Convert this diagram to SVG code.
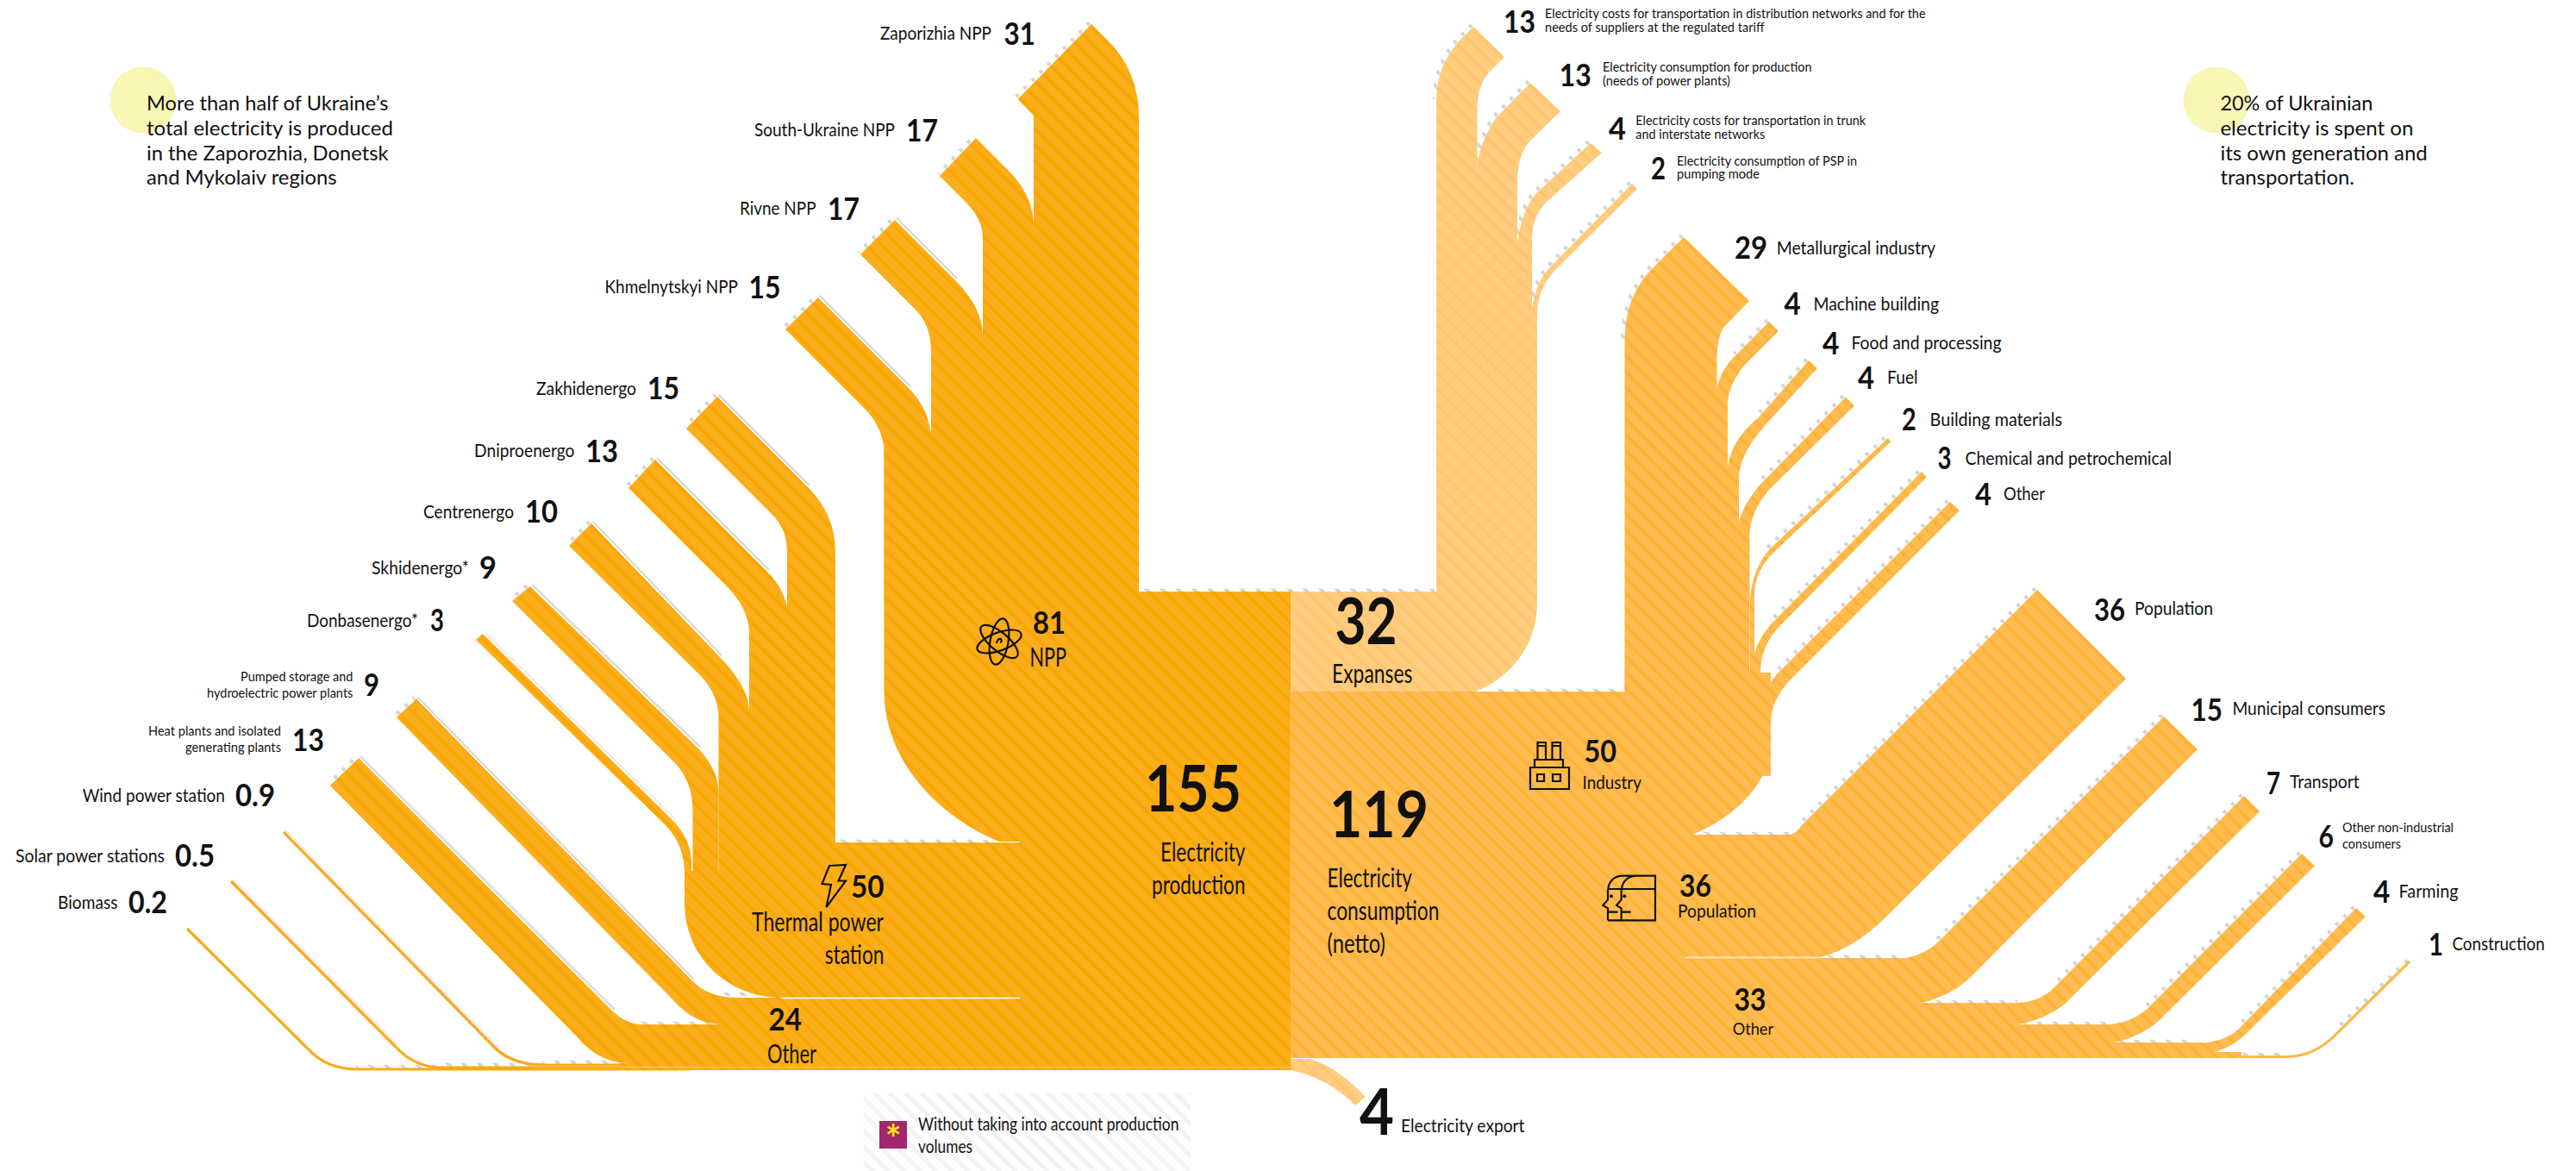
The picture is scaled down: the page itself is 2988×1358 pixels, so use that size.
<svg xmlns="http://www.w3.org/2000/svg" width="2988" height="1358" viewBox="0 0 2988 1358">
<style>
text{font-family:"Lato","Noto Sans","Liberation Sans",sans-serif;fill:#111}
.n{font-weight:700;font-size:37px}
.b{font-weight:700;font-size:74px}
.l{font-size:21px}
.s{font-size:16px}
.m{font-size:30px}
.t{font-size:20px}
.gl{fill:url(#pL)}
.gr{fill:url(#pR)}
.ge{fill:url(#pE)}
.tick{fill:none;stroke:url(#pG);stroke-width:4.5}
.edge{fill:none;stroke:#d9dbdd;stroke-width:2.5}
.thinL{fill:none;stroke:#F9A91A;stroke-width:3.2}
.thinR{fill:none;stroke:#FEB84A;stroke-width:3.2}
.icon{fill:none;stroke:#111;stroke-width:2.2}
</style>
<defs>
<pattern id="pL" width="13" height="13" patternUnits="userSpaceOnUse" patternTransform="rotate(-45)"><rect width="13" height="13" fill="#FBAE1B"/><rect width="4" height="13" fill="#F9A605"/></pattern>
<pattern id="pR" width="13" height="13" patternUnits="userSpaceOnUse" patternTransform="rotate(-45)"><rect width="13" height="13" fill="#FEBB50"/><rect width="4" height="13" fill="#FDB33A"/></pattern>
<pattern id="pE" width="13" height="13" patternUnits="userSpaceOnUse" patternTransform="rotate(-45)"><rect width="13" height="13" fill="#FFCC80"/><rect width="4" height="13" fill="#FFC671"/></pattern>
<pattern id="pG" width="13" height="13" patternUnits="userSpaceOnUse" patternTransform="rotate(-45)"><rect width="4" height="13" fill="#d2d5d8"/></pattern>
<pattern id="pH" width="13" height="13" patternUnits="userSpaceOnUse" patternTransform="rotate(-45)"><rect width="13" height="13" fill="#fff"/><rect width="5" height="13" fill="#f3f3f3"/></pattern>
</defs>
<rect width="2988" height="1358" fill="#fff"/>

<g id="connectors">
<g transform="translate(-2,-2)">
<path class="tick" d="M1709 31L1695 45Q1666 75 1666 117M1775 96L1735 137Q1716 165 1713 195M1845 166L1781 225Q1765 245 1760 282M1893 213L1800 308Q1782 325 1777 358M1953 275L1915 313Q1884.5 345 1884.5 395M2052 373L2013.5 412M2098 418L2039 485M2141 460L2042 561M2190 508L2052 637M2229 547L2055 723M2262 582L2061 782M2363 684L2090 957M2510 831L2249 1091M2603 923L2383 1145M2670 990L2492 1168M2733 1053L2600 1190M2795 1115L2712 1195"/>
<path class="tick" d="M1730 803H1884M1972 969H2077M2120 1112H2211M2240 1164H2342M2350 1189H2447M2460 1210H2552M2560 1225H2650M1321 687H1666M969 978H1155M743 1189H837M631 1234H730M510 1237H631M415 1239H510M842 1155H875"/>
<path class="tick" d="M1266 28L1180 115M1132 160L1090 204M1038 255L998 295M949 345L911 382M832 460L796 497M760 533L729 566M686 607L660 633M615 680L594 697M483 811L460 832M416 879L383 911"/>
</g>
<path class="edge" transform="translate(2,-2)" d="M1038 255L1108 325M949 345L1054 450M832 460L937 565M760 533L890 663M686 607L835 762M615 680L810 868M483 811L803 1138M416 879L711 1173"/>
<path class="edge" transform="translate(2,-2)" stroke-opacity=".5" d="M560 735L781 952M329 965L575 1216M268 1022L459 1214"/>

<path class="thinL" d="M217 1077L357 1216Q378 1240 415 1240H800"/>
<path class="thinL" d="M268 1022L459 1214Q480 1237 510 1238H800"/>
<path class="thinL" d="M329 965L575 1216Q595 1235 632 1235H800"/>
<path class="gl" d="M1266 28L1285 47Q1321 83 1321 135V700H1199V134L1180.5 115Z"/>
<path class="gl" d="M1132 160L1169 197Q1199 227 1199 262V700H1140V278Q1140 254 1121 235L1090 204Z"/>
<path class="gl" d="M1038 255L1108 325Q1140 357 1140 390V700H1080V408Q1080 377 1062 359L998 295Z"/>
<path class="gl" d="M949 345L1054 450Q1080 476 1080 512V700H1025.5V525Q1025.5 497 1003 474L911 382Z"/>
<path class="gl" d="M1025.5 500H1321V686H1497.5V1241H900V1100H1183V976H1159C1085 945 1025.5 880 1025.5 801Z"/>
<path class="gl" d="M832 460L937 565Q969 597 969 640V1020H913V642Q913 614 897 598L796 497Z"/>
<path class="gl" d="M760 533L890 663Q915 688 915 722V1020H869V734Q869 706 842 679L729 566Z"/>
<path class="gl" d="M686 607L835 762Q869 797 869 825V1020H833.5V832Q833.5 806 813 784L660 633Z"/>
<path class="gl" d="M615 680L810 868Q833.5 893 833.5 920V1020H803.5V940Q803.5 905 781 883L594 697Z"/>
<path class="gl" d="M560 735L781 952Q802 975 802 1000V1020H794V1013Q794 980 772 957L552 742Z"/>
<path class="gl" d="M794 1010H969V977H1200V1157H906C845 1157 794 1110 794 1047Z"/>
<path class="gl" d="M483 810.6L803.5 1138Q822 1157 855 1157H1000V1188H837Q806 1188 781 1160L460 832Z"/>
<path class="gl" d="M416 879L711 1173Q727 1188 745 1188H1000V1233H730Q695 1233 670 1203L383 911Z"/>
<path class="gl" d="M720 1233H1000V1157H1497.5V1241H720Z"/>
<path d="M906 1157.5H1183" stroke="#fff" stroke-width="1.4" fill="none"/>
<path d="M720 1237.5H1497" stroke="#FFC86A" stroke-width="1" fill="none"/>

<path class="ge" d="M1520 1228Q1555 1240 1583.5 1272L1572 1282Q1540 1250 1497.5 1241V1228Z"/>
<path class="ge" d="M1497.5 686H1783V700C1783 745 1755 785 1711 802H1497.5Z"/>
<path class="ge" d="M1709 31L1745 66L1727 84Q1713.6 100 1713.6 125V700H1666V117Q1666 75 1695 45Z"/>
<path class="ge" d="M1775 96L1810 129L1775 163Q1760 180 1760 210V700H1713V195Q1716 165 1735 137Z"/>
<path class="ge" d="M1845 166L1858 177L1794 234Q1777 250 1777 280V700H1760V282Q1765 245 1781 225Z"/>
<path class="ge" d="M1893 213L1899 219L1805 312Q1783 335 1783 365V700H1777V358Q1782 325 1800 308Z"/>

<path class="gr" d="M1953 275L2029 349L1999 380Q1991.5 392 1991.5 420V800H1884.5V395Q1884.5 345 1915 313Z"/>
<path class="gr" d="M2052 373L2063 384L2026 421Q2004 445 2004 470V800H1991V455Q1994 430 2013.5 412Z"/>
<path class="gr" d="M2098 418L2108 427L2048.6 492Q2017 527 2017 555V800H2004V542Q2008 510 2039 485Z"/>
<path class="gr" d="M2141 460.5L2151 470.5L2052 568Q2029.5 595 2029.5 620V800H2017V605Q2022 585 2042 561.6Z"/>
<path class="gr" d="M2190 508L2193.4 512L2058 640Q2035 662 2035 690V800H2030V693Q2033 660 2052 637.5Z"/>
<path class="gr" d="M2229 547L2235 553L2063 727.5Q2042 750 2042 780V800H2035V758Q2040 740 2055 723Z"/>
<path class="gr" d="M2262 582L2273 592L2077 788Q2054 812 2054 838V900H2042V818Q2048 798 2061 782Z"/>
<path class="gr" d="M1497.5 802H1884.5V780H2054V862C2054 905 2015 948 1960 969V1227H1497.5Z"/>
<path class="gr" d="M2363 684L2466 787L2186 1065Q2150 1100 2112 1110H1950V968H2077Q2085 965 2090 957Z"/>
<path class="gr" d="M2510 831L2549 869L2285 1134Q2262 1155 2229 1163H1950V1111H2211Q2235 1106 2249.5 1091Z"/>
<path class="gr" d="M2603 923L2621 941L2393 1166Q2372 1182 2342 1188H1950V1163H2342Q2367 1161 2383 1145Z"/>
<path class="gr" d="M2670 990L2685 1004L2511 1177Q2490 1200 2453 1209H1950V1188H2447Q2475 1185 2492 1168.5Z"/>
<path class="gr" d="M2733 1053L2744 1063L2610 1194Q2590 1217 2556 1223.5H1950V1210H2552Q2585 1207 2600 1190Z"/>
<path class="thinR" d="M2795 1115L2712 1197Q2685 1226 2651 1225.5H2500"/>
<path class="gr" d="M1950 1105H2112V1111H2229V1163H2342V1188H2453V1209H2556V1220H2600V1227H1950Z"/>
<path d="M1955 1110.5H2112" stroke="#FFE2B5" stroke-width="1.8" fill="none"/>
</g>

<g id="note-left">
<circle cx="166" cy="116" r="38.5" fill="#F9F5B5"/>
<text x="170" y="128" font-size="24" textLength="280.6" lengthAdjust="spacingAndGlyphs">More than half of Ukraine’s</text>
<text x="170" y="157" font-size="24" textLength="286" lengthAdjust="spacingAndGlyphs">total electricity is produced</text>
<text x="170" y="185.6" font-size="24" textLength="280.6" lengthAdjust="spacingAndGlyphs">in the Zaporozhia, Donetsk</text>
<text x="170" y="214" font-size="24" textLength="220.7" lengthAdjust="spacingAndGlyphs">and Mykolaiv regions</text>
</g>
<g id="note-right">
<circle cx="2571" cy="116" r="38.5" fill="#F9F5B5"/>
<text x="2575.4" y="128" font-size="24" textLength="177" lengthAdjust="spacingAndGlyphs">20% of Ukrainian</text>
<text x="2575.4" y="157" font-size="24" textLength="224" lengthAdjust="spacingAndGlyphs">electricity is spent on</text>
<text x="2575.4" y="185.6" font-size="24" textLength="240.4" lengthAdjust="spacingAndGlyphs">its own generation and</text>
<text x="2575.4" y="214" font-size="24" textLength="155.6" lengthAdjust="spacingAndGlyphs">transportation.</text>
</g>

<g id="zaporizhia"><text class="l" x="1021" y="45.5" textLength="129" lengthAdjust="spacingAndGlyphs">Zaporizhia NPP</text><text class="n" x="1164.5" y="52" textLength="36.5" lengthAdjust="spacingAndGlyphs">31</text></g>
<g id="south-ukraine"><text class="l" x="875" y="158" textLength="163" lengthAdjust="spacingAndGlyphs">South-Ukraine NPP</text><text class="n" x="1051" y="164" textLength="37" lengthAdjust="spacingAndGlyphs">17</text></g>
<g id="rivne"><text class="l" x="858" y="249" textLength="88.5" lengthAdjust="spacingAndGlyphs">Rivne NPP</text><text class="n" x="960" y="255" textLength="37" lengthAdjust="spacingAndGlyphs">17</text></g>
<g id="khmelnytskyi"><text class="l" x="701.5" y="340" textLength="154.5" lengthAdjust="spacingAndGlyphs">Khmelnytskyi NPP</text><text class="n" x="868.6" y="345.6" textLength="37" lengthAdjust="spacingAndGlyphs">15</text></g>
<g id="zakhidenergo"><text class="l" x="622" y="457.5" textLength="116" lengthAdjust="spacingAndGlyphs">Zakhidenergo</text><text class="n" x="751" y="463" textLength="37" lengthAdjust="spacingAndGlyphs">15</text></g>
<g id="dniproenergo"><text class="l" x="550" y="530" textLength="116.5" lengthAdjust="spacingAndGlyphs">Dniproenergo</text><text class="n" x="679" y="535.5" textLength="38" lengthAdjust="spacingAndGlyphs">13</text></g>
<g id="centrenergo"><text class="l" x="491" y="600.6" textLength="105" lengthAdjust="spacingAndGlyphs">Centrenergo</text><text class="n" x="609" y="606" textLength="38" lengthAdjust="spacingAndGlyphs">10</text></g>
<g id="skhidenergo"><text class="l" x="431" y="665.6" textLength="113" lengthAdjust="spacingAndGlyphs">Skhidenergo*</text><text class="n" x="556" y="671" textLength="20" lengthAdjust="spacingAndGlyphs">9</text></g>
<g id="donbasenergo"><text class="l" x="356" y="726.7" textLength="129" lengthAdjust="spacingAndGlyphs">Donbasenergo*</text><text class="n" x="499" y="732" textLength="16" lengthAdjust="spacingAndGlyphs">3</text></g>
<g id="pumped"><text class="s" x="279" y="790" textLength="130.4" lengthAdjust="spacingAndGlyphs">Pumped storage and</text><text class="s" x="240" y="809" textLength="169.4" lengthAdjust="spacingAndGlyphs">hydroelectric power plants</text><text class="n" x="422" y="806.7" textLength="18" lengthAdjust="spacingAndGlyphs">9</text></g>
<g id="heat"><text class="s" x="172" y="853" textLength="154" lengthAdjust="spacingAndGlyphs">Heat plants and isolated</text><text class="s" x="215" y="871.5" textLength="111" lengthAdjust="spacingAndGlyphs">generating plants</text><text class="n" x="339" y="871" textLength="37" lengthAdjust="spacingAndGlyphs">13</text></g>
<g id="wind"><text class="l" x="95.7" y="930" textLength="165.3" lengthAdjust="spacingAndGlyphs">Wind power station</text><text class="n" x="273" y="935" textLength="46" lengthAdjust="spacingAndGlyphs">0.9</text></g>
<g id="solar"><text class="l" x="18" y="1000" textLength="173" lengthAdjust="spacingAndGlyphs">Solar power stations</text><text class="n" x="203" y="1005" textLength="46" lengthAdjust="spacingAndGlyphs">0.5</text></g>
<g id="biomass"><text class="l" x="67" y="1054" textLength="69.5" lengthAdjust="spacingAndGlyphs">Biomass</text><text class="n" x="149" y="1059" textLength="45" lengthAdjust="spacingAndGlyphs">0.2</text></g>

<g id="other-left"><text class="n" x="891.6" y="1194.5" textLength="38.4" lengthAdjust="spacingAndGlyphs">24</text><text class="m" x="890" y="1233.4" textLength="57" lengthAdjust="spacingAndGlyphs">Other</text></g>
<g id="thermal">
<path class="icon" d="M962 1004L981 1003L972.6 1021.5L981 1021.5L958.5 1052L964 1026L953.5 1025Z"/>
<text class="n" x="987" y="1041" textLength="38.5" lengthAdjust="spacingAndGlyphs">50</text>
<text class="m" x="872" y="1080" textLength="153" lengthAdjust="spacingAndGlyphs">Thermal power</text>
<text class="m" x="956.7" y="1118" textLength="68.8" lengthAdjust="spacingAndGlyphs">station</text>
</g>
<g id="npp">
<g class="icon" stroke-width="2.7"><ellipse cx="1159" cy="744" rx="27" ry="10.5" transform="rotate(-20 1159 744)"/><ellipse cx="1159" cy="744" rx="27" ry="10.5" transform="rotate(40 1159 744)"/><ellipse cx="1159" cy="744" rx="27" ry="10.5" transform="rotate(100 1159 744)"/><path d="M1156 746Q1157 740 1161 741Q1163 744 1160 745"/></g>
<text class="n" x="1198" y="734.5" textLength="38" lengthAdjust="spacingAndGlyphs">81</text>
<text class="m" x="1194.5" y="772.5" textLength="42.5" lengthAdjust="spacingAndGlyphs">NPP</text>
</g>
<g id="production"><text class="b" x="1328" y="940.7" textLength="112" lengthAdjust="spacingAndGlyphs">155</text><text class="m" x="1346" y="998.6" textLength="98.5" lengthAdjust="spacingAndGlyphs">Electricity</text><text class="m" x="1336" y="1036.7" textLength="108.5" lengthAdjust="spacingAndGlyphs">production</text></g>
<g id="expanses"><text class="b" x="1548.5" y="747.4" textLength="72" lengthAdjust="spacingAndGlyphs">32</text><text class="m" x="1545" y="791.5" textLength="93.4" lengthAdjust="spacingAndGlyphs">Expanses</text></g>
<g id="consumption"><text class="b" x="1542" y="970.5" textLength="115" lengthAdjust="spacingAndGlyphs">119</text><text class="m" x="1539.5" y="1029" textLength="98.3" lengthAdjust="spacingAndGlyphs">Electricity</text><text class="m" x="1539.5" y="1067" textLength="130" lengthAdjust="spacingAndGlyphs">consumption</text><text class="m" x="1539.5" y="1104.5" textLength="67.5" lengthAdjust="spacingAndGlyphs">(netto)</text></g>
<g id="industry">
<path class="icon" d="M1775 890H1820V915H1775ZM1783 898H1791V906H1783ZM1801 898H1810V906H1801ZM1780 890V881H1813V890M1783.5 881V861H1793V881M1783.5 865H1793M1800.5 881V861H1810V881M1800.5 865H1810"/>
<text class="n" x="1837.4" y="884" textLength="37.6" lengthAdjust="spacingAndGlyphs">50</text>
<text class="l" x="1835.5" y="915" textLength="68.5" lengthAdjust="spacingAndGlyphs">Industry</text>
</g>
<g id="population">
<g transform="translate(1850 1005) scale(.3333)"><path fill="none" stroke="#111" stroke-width="6.5" d="M45 187V145L28 135L45 115V85Q48 32 100 32H210V187H45M92 187V145L75 135L92 115V85Q95 32 150 32M45 78H210M45 158H80M92 158H125"/><circle cx="57" cy="103" r="6" fill="#111"/><circle cx="103" cy="103" r="6" fill="#111"/></g>
<text class="n" x="1948" y="1039.7" textLength="37" lengthAdjust="spacingAndGlyphs">36</text>
<text class="l" x="1946" y="1064" textLength="91" lengthAdjust="spacingAndGlyphs">Population</text>
</g>
<g id="other-right"><text class="n" x="2011.6" y="1172" textLength="37" lengthAdjust="spacingAndGlyphs">33</text><text class="t" x="2009.7" y="1200" textLength="47.3" lengthAdjust="spacingAndGlyphs">Other</text></g>
<g id="export"><text class="b" x="1577" y="1316.4" textLength="40" lengthAdjust="spacingAndGlyphs">4</text><text class="l" x="1625" y="1313.4" textLength="143.5" lengthAdjust="spacingAndGlyphs">Electricity export</text></g>
<g id="legend">
<rect x="1002" y="1267" width="379" height="91" fill="url(#pH)"/>
<rect x="1020" y="1300" width="32" height="32" fill="#A2276F"/>
<text x="1036" y="1336" font-size="44" font-weight="700" text-anchor="middle" style="fill:#FFE51A">*</text>
<text class="l" x="1065" y="1311" textLength="302.4" lengthAdjust="spacingAndGlyphs">Without taking into account production</text>
<text class="l" x="1065" y="1337" textLength="63" lengthAdjust="spacingAndGlyphs">volumes</text>
</g>

<g id="distribution"><text class="n" x="1744" y="38" textLength="37" lengthAdjust="spacingAndGlyphs">13</text><text class="s" x="1792" y="21" textLength="441.5" lengthAdjust="spacingAndGlyphs">Electricity costs for transportation in distribution networks and for the</text><text class="s" x="1792" y="37" textLength="254.7" lengthAdjust="spacingAndGlyphs">needs of suppliers at the regulated tariff</text></g>
<g id="own-needs"><text class="n" x="1808.7" y="100" textLength="37" lengthAdjust="spacingAndGlyphs">13</text><text class="s" x="1859" y="83" textLength="242.5" lengthAdjust="spacingAndGlyphs">Electricity consumption for production</text><text class="s" x="1859" y="99" textLength="148" lengthAdjust="spacingAndGlyphs">(needs of power plants)</text></g>
<g id="trunk"><text class="n" x="1866" y="162" textLength="20" lengthAdjust="spacingAndGlyphs">4</text><text class="s" x="1897.3" y="145" textLength="266.7" lengthAdjust="spacingAndGlyphs">Electricity costs for transportation in trunk</text><text class="s" x="1897.3" y="161" textLength="150" lengthAdjust="spacingAndGlyphs">and interstate networks</text></g>
<g id="psp"><text class="n" x="1915" y="208" textLength="17" lengthAdjust="spacingAndGlyphs">2</text><text class="s" x="1945" y="192" textLength="209" lengthAdjust="spacingAndGlyphs">Electricity consumption of PSP in</text><text class="s" x="1945" y="207" textLength="96" lengthAdjust="spacingAndGlyphs">pumping mode</text></g>
<g id="metallurgical"><text class="n" x="2012" y="300" textLength="38" lengthAdjust="spacingAndGlyphs">29</text><text class="l" x="2060.7" y="295" textLength="184.3" lengthAdjust="spacingAndGlyphs">Metallurgical industry</text></g>
<g id="machine"><text class="n" x="2069.6" y="365" textLength="19.2" lengthAdjust="spacingAndGlyphs">4</text><text class="l" x="2103.4" y="360" textLength="145.6" lengthAdjust="spacingAndGlyphs">Machine building</text></g>
<g id="food"><text class="n" x="2114" y="410.7" textLength="19.4" lengthAdjust="spacingAndGlyphs">4</text><text class="l" x="2147.4" y="404.6" textLength="174.1" lengthAdjust="spacingAndGlyphs">Food and processing</text></g>
<g id="fuel"><text class="n" x="2155" y="451" textLength="19" lengthAdjust="spacingAndGlyphs">4</text><text class="l" x="2189" y="444.5" textLength="35.6" lengthAdjust="spacingAndGlyphs">Fuel</text></g>
<g id="building"><text class="n" x="2206" y="498.7" textLength="16.7" lengthAdjust="spacingAndGlyphs">2</text><text class="l" x="2238.6" y="493.5" textLength="153.4" lengthAdjust="spacingAndGlyphs">Building materials</text></g>
<g id="chemical"><text class="n" x="2247.6" y="544" textLength="16" lengthAdjust="spacingAndGlyphs">3</text><text class="l" x="2279.5" y="538.6" textLength="239.5" lengthAdjust="spacingAndGlyphs">Chemical and petrochemical</text></g>
<g id="other-industry"><text class="n" x="2291" y="586" textLength="19" lengthAdjust="spacingAndGlyphs">4</text><text class="l" x="2324" y="580" textLength="48" lengthAdjust="spacingAndGlyphs">Other</text></g>
<g id="population-end"><text class="n" x="2429" y="720" textLength="36" lengthAdjust="spacingAndGlyphs">36</text><text class="l" x="2476" y="713.3" textLength="91" lengthAdjust="spacingAndGlyphs">Population</text></g>
<g id="municipal"><text class="n" x="2541.6" y="835.6" textLength="36.4" lengthAdjust="spacingAndGlyphs">15</text><text class="l" x="2589.4" y="829" textLength="177.6" lengthAdjust="spacingAndGlyphs">Municipal consumers</text></g>
<g id="transport"><text class="n" x="2629" y="921" textLength="16" lengthAdjust="spacingAndGlyphs">7</text><text class="l" x="2656" y="914" textLength="80.7" lengthAdjust="spacingAndGlyphs">Transport</text></g>
<g id="non-industrial"><text class="n" x="2689.5" y="982.6" textLength="17.5" lengthAdjust="spacingAndGlyphs">6</text><text class="s" x="2717" y="965" textLength="129" lengthAdjust="spacingAndGlyphs">Other non-industrial</text><text class="s" x="2717" y="984" textLength="68" lengthAdjust="spacingAndGlyphs">consumers</text></g>
<g id="farming"><text class="n" x="2753" y="1046.6" textLength="19.4" lengthAdjust="spacingAndGlyphs">4</text><text class="l" x="2782.6" y="1041" textLength="68.9" lengthAdjust="spacingAndGlyphs">Farming</text></g>
<g id="construction"><text class="n" x="2817" y="1108" textLength="17" lengthAdjust="spacingAndGlyphs">1</text><text class="l" x="2844.5" y="1101.5" textLength="107.1" lengthAdjust="spacingAndGlyphs">Construction</text></g>
</svg>
